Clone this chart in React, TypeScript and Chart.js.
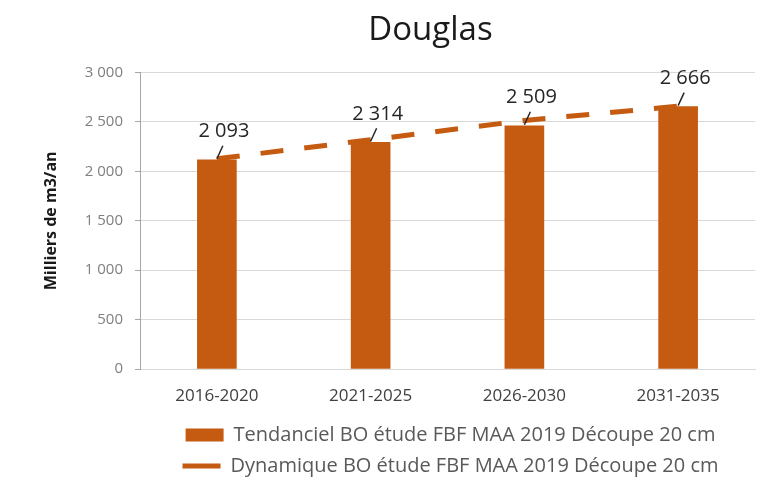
import { useEffect, useRef } from 'react';
import { Chart, registerables } from 'chart.js';

Chart.register(...registerables);

const chartTitle = 'Douglas';
const yAxisTitle = 'Milliers de m3/an';
const categories = ['2016-2020', '2021-2025', '2026-2030', '2031-2035'];
const tendancielValues = [2118, 2295, 2462, 2655];
const dynamiqueValues = [2128, 2320, 2515, 2660];
const valueLabels = ['2 093', '2 314', '2 509', '2 666'];
const yTickLabels = ['0', '500', '1 000', '1 500', '2 000', '2 500', '3 000'];
const seriesNames = [
  'Tendanciel BO étude FBF MAA 2019 Découpe 20 cm',
  'Dynamique BO étude FBF MAA 2019 Découpe 20 cm',
];

const ORANGE = '#C55A11';
const FONT = 'Open Sans';

const valueLabelPlugin = {
  id: 'valueLabels',
  afterDatasetsDraw(chart: any) {
    const meta = chart.getDatasetMeta(0);
    const ctx = chart.ctx;
    ctx.save();
    meta.data.forEach((bar: any, i: number) => {
      const x = bar.x;
      const y = bar.y;
      ctx.strokeStyle = '#262626';
      ctx.lineWidth = 1.5;
      ctx.beginPath();
      ctx.moveTo(x, y - 1);
      ctx.lineTo(x + 6, y - 14);
      ctx.stroke();
      ctx.fillStyle = '#262626';
      ctx.font = `20px "${FONT}"`;
      ctx.textAlign = 'center';
      ctx.textBaseline = 'middle';
      ctx.fillText(valueLabels[i], x + 7, y - 28);
    });
    ctx.restore();
  },
};

const shiftPlugin = {
  id: 'shiftBoxes',
  afterLayout(chart: any) {
    const t = chart.titleBlock;
    if (t) {
      t.left += 53;
      t.right += 53;
    }
    const l = chart.legend;
    if (l) {
      l.left += 73;
      l.right += 73;
    }
  },
};

export default function App() {
  const ref = useRef<HTMLCanvasElement>(null);
  useEffect(() => {
    const chart = new Chart(ref.current as HTMLCanvasElement, {
      type: 'bar',
      data: {
        labels: categories,
        datasets: [
          {
            type: 'bar',
            label: seriesNames[0],
            data: tendancielValues,
            backgroundColor: ORANGE,
            barThickness: 39,
            order: 1,
          } as any,
          {
            type: 'line',
            label: seriesNames[1],
            data: dynamiqueValues,
            borderColor: ORANGE,
            backgroundColor: ORANGE,
            borderWidth: 5,
            borderDash: [23, 21],
            pointRadius: 0,
            fill: false,
            tension: 0,
            order: 0,
          } as any,
        ],
      },
      options: {
        animation: false,
        responsive: true,
        maintainAspectRatio: false,
        layout: { padding: { left: 0, right: 7, top: 0, bottom: 1 } },
        plugins: {
          tooltip: { enabled: false },
          title: {
            display: true,
            text: chartTitle,
            color: '#1a1a1a',
            font: { family: FONT, size: 33, weight: 'normal' },
            padding: { top: 11, bottom: 22 },
          },
          legend: {
            position: 'bottom',
            labels: {
              usePointStyle: true,
              pointStyleWidth: 38,
              boxHeight: 13,
              padding: 11,
              color: '#595959',
              font: { family: FONT, size: 20 },
              generateLabels: () => [
                {
                  text: seriesNames[0],
                  fillStyle: ORANGE,
                  strokeStyle: ORANGE,
                  lineWidth: 0,
                  pointStyle: 'rect',
                  datasetIndex: 0,
                  hidden: false,
                  fontColor: '#595959',
                } as any,
                {
                  text: seriesNames[1],
                  fillStyle: ORANGE,
                  strokeStyle: ORANGE,
                  lineWidth: 5,
                  lineDash: [],
                  pointStyle: 'line',
                  datasetIndex: 1,
                  hidden: false,
                  fontColor: '#595959',
                } as any,
              ],
            },
          },
        },
        scales: {
          x: {
            grid: { display: false, drawTicks: false },
            border: { display: true, color: '#d9d9d9' },
            ticks: { font: { family: FONT, size: 17 }, color: '#404040', padding: 17 },
            afterFit: (s: any) => {
              s.height = 45;
            },
          },
          y: {
            min: 0,
            max: 3000,
            ticks: {
              stepSize: 500,
              callback: (_v: any, i: number) => yTickLabels[i],
              font: { family: FONT, size: 15 },
              color: '#7f7f7f',
              padding: 12,
            },
            grid: { color: '#d9d9d9', tickLength: 5, tickColor: '#a6a6a6' },
            border: { color: '#a6a6a6' },
            title: {
              display: true,
              text: yAxisTitle,
              color: '#1a1a1a',
              font: { family: FONT, size: 16, weight: 'bold' },
              padding: { top: 42, bottom: 0 },
            },
            afterFit: (s: any) => {
              s.width = 140;
            },
          },
        },
      },
      plugins: [valueLabelPlugin, shiftPlugin],
    });
    return () => chart.destroy();
  }, []);
  return (
    <div style={{ position: 'absolute', left: 0, top: 0, width: 762, height: 487 }}>
      <canvas ref={ref} />
    </div>
  );
}
